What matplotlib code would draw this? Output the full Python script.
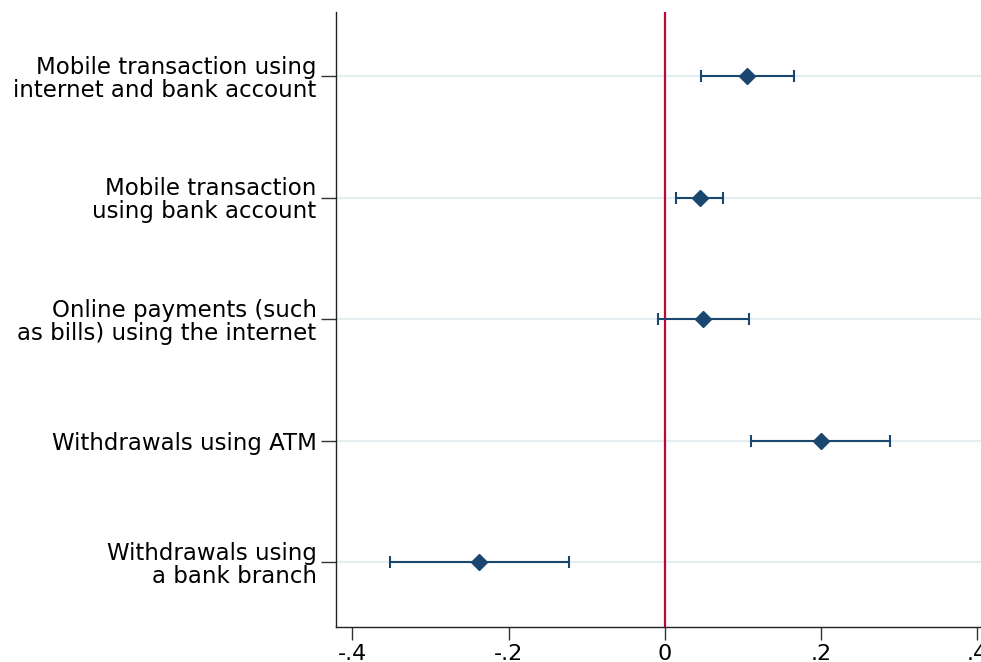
import matplotlib
matplotlib.use("Agg")
import matplotlib.pyplot as plt

# ---------------------------------------------------------------------------
# Data (coefficients with confidence intervals)
# ---------------------------------------------------------------------------

labels = [
    "Mobile transaction using\ninternet and bank account",
    "Mobile transaction\nusing bank account",
    "Online payments (such\nas bills) using the internet",
    "Withdrawals using ATM",
    "Withdrawals using\na bank branch",
]
coef = [0.105, 0.045, 0.049, 0.200, -0.238]
ci_low = [0.047, 0.015, -0.009, 0.110, -0.352]
ci_high = [0.165, 0.074, 0.108, 0.289, -0.123]

xticks = [-0.4, -0.2, 0, 0.2, 0.4]
xtick_labels = ["-.4", "-.2", "0", ".2", ".4"]

NAVY = "#1a476f"
CRANBERRY = "#c10534"
GRID = "#e4eef1"

plt.rcParams["font.family"] = ["DejaVu Sans"]

fig = plt.figure(figsize=(9.81, 6.62), dpi=100)
ax = fig.add_axes([0.3425, 0.053, 0.6575, 0.929])

n = len(labels)
ypos = list(range(n, 0, -1))

for y in ypos:
    ax.axhline(y, color=GRID, linewidth=1.6, zorder=0)

ax.axvline(0, color=CRANBERRY, linewidth=1.6, zorder=1)

xerr = [[c - lo for c, lo in zip(coef, ci_low)],
        [hi - c for c, hi in zip(coef, ci_high)]]
ax.errorbar(coef, ypos, xerr=xerr, fmt="D", color=NAVY, markersize=8,
            elinewidth=1.5, capsize=4.5, capthick=1.5, zorder=3)

ax.set_xlim(-0.421, 0.405)
ax.set_ylim(0.47, n + 0.53)
ax.set_yticks(ypos)
ax.set_yticklabels(labels, fontsize=16.5, linespacing=1.0)
ax.set_xticks(xticks)
ax.set_xticklabels(xtick_labels, fontsize=16)

ax.tick_params(axis="y", length=11, width=1, pad=3, color="#333333")
ax.tick_params(axis="x", length=9, width=1, pad=3, color="#333333")

for side in ("top", "right"):
    ax.spines[side].set_visible(False)
for side in ("left", "bottom"):
    ax.spines[side].set_linewidth(1.0)
    ax.spines[side].set_color("#222222")

fig.savefig("out.png", dpi=100)
